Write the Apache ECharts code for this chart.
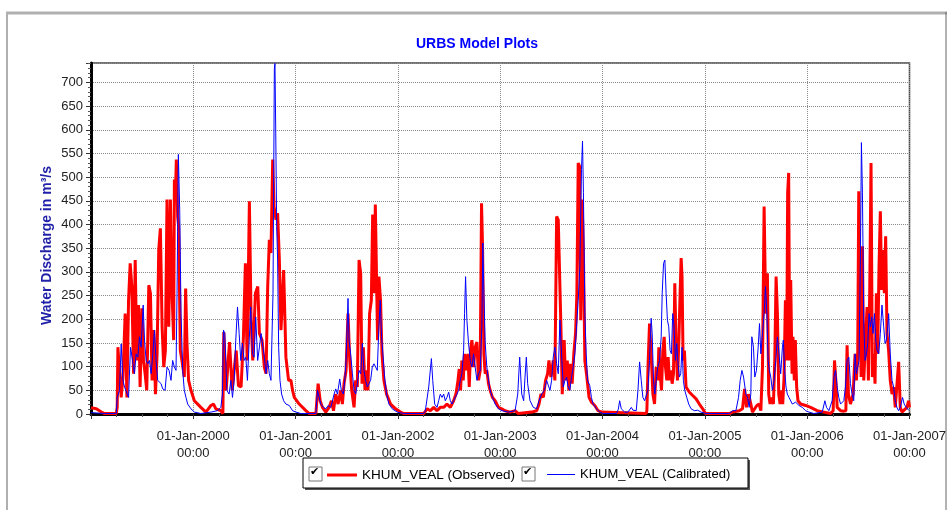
<!DOCTYPE html>
<html>
<head>
<meta charset="utf-8">
<script src="https://cdn.jsdelivr.net/npm/echarts@6/dist/echarts.min.js"></script>
<style>
html,body{margin:0;padding:0;background:#fff;}
#chart{width:949px;height:510px;}
</style>
</head>
<body>
<div id="chart"></div>
<script>
// Decimal-year time stamps and discharge values (m3/s)
var obsT = [1999.000,1999.052,1999.101,1999.133,1999.247,1999.256,1999.263,1999.273,1999.295,1999.312,1999.334,1999.351,1999.367,1999.383,1999.399,1999.416,1999.432,1999.448,1999.464,1999.480,1999.497,1999.513,1999.529,1999.545,1999.565,1999.581,1999.597,1999.614,1999.630,1999.646,1999.662,1999.678,1999.695,1999.711,1999.727,1999.743,1999.760,1999.776,1999.792,1999.808,1999.815,1999.824,1999.834,1999.847,1999.857,1999.873,1999.889,1999.912,1999.925,1999.938,1999.954,1999.977,2000.010,2000.074,2000.123,2000.172,2000.198,2000.220,2000.269,2000.289,2000.298,2000.321,2000.354,2000.380,2000.402,2000.419,2000.441,2000.467,2000.490,2000.509,2000.526,2000.548,2000.565,2000.581,2000.607,2000.630,2000.646,2000.672,2000.694,2000.711,2000.727,2000.743,2000.759,2000.776,2000.789,2000.808,2000.824,2000.841,2000.857,2000.883,2000.905,2000.931,2000.954,2000.970,2000.987,2001.035,2001.100,2001.133,2001.198,2001.220,2001.240,2001.262,2001.295,2001.327,2001.350,2001.370,2001.392,2001.415,2001.441,2001.457,2001.473,2001.493,2001.512,2001.529,2001.548,2001.571,2001.587,2001.603,2001.620,2001.636,2001.649,2001.662,2001.678,2001.691,2001.707,2001.723,2001.740,2001.753,2001.766,2001.779,2001.791,2001.801,2001.814,2001.830,2001.844,2001.863,2001.889,2001.928,2001.977,2002.025,2002.058,2002.252,2002.285,2002.317,2002.350,2002.382,2002.414,2002.447,2002.479,2002.512,2002.544,2002.567,2002.587,2002.599,2002.612,2002.625,2002.638,2002.651,2002.668,2002.684,2002.697,2002.710,2002.723,2002.739,2002.755,2002.772,2002.788,2002.804,2002.817,2002.827,2002.840,2002.853,2002.869,2002.885,2002.901,2002.924,2002.950,2002.983,2003.015,2003.047,2003.096,2003.145,2003.177,2003.307,2003.356,2003.379,2003.398,2003.421,2003.443,2003.463,2003.476,2003.495,2003.518,2003.534,2003.551,2003.567,2003.583,2003.593,2003.606,2003.625,2003.638,2003.655,2003.671,2003.687,2003.703,2003.719,2003.736,2003.749,2003.762,2003.775,2003.787,2003.800,2003.813,2003.827,2003.843,2003.868,2003.891,2003.924,2003.956,2003.989,2004.005,2004.427,2004.433,2004.446,2004.459,2004.475,2004.492,2004.508,2004.524,2004.540,2004.550,2004.563,2004.576,2004.589,2004.602,2004.615,2004.628,2004.641,2004.654,2004.667,2004.680,2004.693,2004.706,2004.719,2004.732,2004.745,2004.758,2004.768,2004.777,2004.787,2004.800,2004.816,2004.849,2004.881,2004.914,2004.946,2004.979,2005.005,2005.238,2005.271,2005.336,2005.368,2005.388,2005.407,2005.427,2005.449,2005.465,2005.482,2005.508,2005.530,2005.547,2005.563,2005.579,2005.595,2005.611,2005.624,2005.637,2005.650,2005.670,2005.683,2005.696,2005.709,2005.722,2005.735,2005.748,2005.761,2005.774,2005.787,2005.800,2005.809,2005.819,2005.829,2005.839,2005.852,2005.861,2005.874,2005.884,2005.897,2005.910,2005.936,2005.985,2006.033,2006.098,2006.163,2006.228,2006.254,2006.267,2006.280,2006.293,2006.326,2006.358,2006.378,2006.390,2006.403,2006.423,2006.449,2006.468,2006.481,2006.494,2006.504,2006.517,2006.527,2006.540,2006.553,2006.569,2006.585,2006.598,2006.611,2006.624,2006.637,2006.650,2006.663,2006.676,2006.689,2006.702,2006.715,2006.728,2006.741,2006.754,2006.767,2006.780,2006.796,2006.812,2006.829,2006.845,2006.861,2006.877,2006.894,2006.910,2006.926,2006.942,2006.975,2006.991,2007.000];
var obsV = [13,11,4,1,1,14,141,141,35,78,212,35,240,318,269,85,325,113,230,57,223,113,85,50,272,255,71,177,42,127,346,392,184,99,134,453,184,453,255,156,495,453,537,417,396,134,113,78,265,149,71,50,28,14,4,18,21,11,7,1,173,50,152,50,99,134,60,57,163,318,113,449,198,113,255,269,170,156,99,85,269,368,340,537,438,410,424,325,177,304,120,71,71,50,35,21,7,1,1,64,28,14,4,14,28,7,42,21,50,21,64,92,212,113,50,14,71,57,325,297,64,141,50,92,50,212,240,421,255,442,438,156,290,240,127,71,42,21,11,4,1,1,11,7,14,7,14,14,21,14,28,42,71,95,50,113,71,127,92,127,57,134,156,99,141,152,71,92,445,354,127,85,92,64,50,35,28,14,11,7,4,7,1,4,7,21,42,35,71,85,113,78,113,71,417,410,414,184,42,156,71,113,50,106,64,127,170,255,530,523,198,453,339,113,85,35,25,18,7,4,1,1,7,113,191,127,42,21,99,71,141,85,50,134,163,99,71,120,71,92,64,85,276,141,71,149,255,329,290,113,134,57,46,39,32,21,11,1,1,4,7,11,53,14,42,21,4,7,18,21,7,99,438,212,297,42,21,35,21,113,290,212,42,21,50,21,78,240,113,467,509,113,283,85,163,71,156,57,28,21,18,14,7,4,1,7,113,71,14,7,6,7,145,42,21,42,127,71,127,470,255,78,354,71,71,226,71,255,530,78,127,64,255,127,311,428,262,346,255,375,170,134,71,42,57,14,11,110,14,4,1,14,28,14];

var calT = [1999.000,1999.133,1999.247,1999.256,1999.279,1999.295,1999.312,1999.328,1999.354,1999.367,1999.386,1999.406,1999.425,1999.441,1999.458,1999.474,1999.490,1999.510,1999.523,1999.539,1999.555,1999.571,1999.588,1999.604,1999.620,1999.636,1999.652,1999.669,1999.685,1999.701,1999.724,1999.743,1999.763,1999.782,1999.798,1999.815,1999.831,1999.841,1999.854,1999.867,1999.880,1999.896,1999.912,1999.928,1999.945,1999.977,2000.010,2000.074,2000.172,2000.237,2000.269,2000.285,2000.295,2000.308,2000.328,2000.350,2000.367,2000.383,2000.399,2000.415,2000.432,2000.448,2000.464,2000.480,2000.497,2000.513,2000.529,2000.545,2000.561,2000.578,2000.594,2000.610,2000.629,2000.646,2000.662,2000.678,2000.694,2000.711,2000.727,2000.743,2000.759,2000.769,2000.779,2000.792,2000.798,2000.805,2000.815,2000.824,2000.834,2000.847,2000.863,2000.883,2000.905,2000.938,2000.970,2001.003,2001.051,2001.198,2001.214,2001.230,2001.246,2001.272,2001.295,2001.318,2001.344,2001.376,2001.392,2001.409,2001.431,2001.447,2001.467,2001.480,2001.493,2001.512,2001.522,2001.538,2001.555,2001.571,2001.587,2001.603,2001.620,2001.636,2001.652,2001.668,2001.684,2001.701,2001.717,2001.733,2001.749,2001.766,2001.782,2001.798,2001.814,2001.827,2001.840,2001.853,2001.869,2001.889,2001.912,2001.944,2001.993,2002.058,2002.252,2002.268,2002.301,2002.327,2002.340,2002.359,2002.382,2002.398,2002.414,2002.431,2002.447,2002.463,2002.479,2002.496,2002.512,2002.528,2002.544,2002.561,2002.577,2002.593,2002.609,2002.625,2002.642,2002.651,2002.661,2002.674,2002.690,2002.707,2002.723,2002.739,2002.755,2002.772,2002.788,2002.804,2002.820,2002.830,2002.840,2002.853,2002.869,2002.885,2002.901,2002.924,2002.950,2002.983,2003.015,2003.080,2003.145,2003.171,2003.190,2003.210,2003.229,2003.242,2003.255,2003.268,2003.291,2003.323,2003.356,2003.379,2003.405,2003.430,2003.453,2003.469,2003.486,2003.502,2003.518,2003.534,2003.551,2003.567,2003.583,2003.599,2003.616,2003.632,2003.648,2003.664,2003.680,2003.697,2003.713,2003.729,2003.745,2003.762,2003.778,2003.794,2003.804,2003.813,2003.827,2003.840,2003.853,2003.875,2003.891,2003.907,2003.940,2003.972,2004.005,2004.135,2004.154,2004.167,2004.183,2004.216,2004.248,2004.281,2004.297,2004.329,2004.346,2004.362,2004.378,2004.394,2004.411,2004.427,2004.443,2004.459,2004.475,2004.485,2004.498,2004.511,2004.524,2004.540,2004.557,2004.573,2004.583,2004.596,2004.609,2004.621,2004.634,2004.647,2004.660,2004.673,2004.686,2004.699,2004.712,2004.725,2004.738,2004.751,2004.764,2004.777,2004.790,2004.803,2004.823,2004.842,2004.865,2004.897,2004.930,2004.962,2005.011,2005.238,2005.271,2005.303,2005.329,2005.345,2005.362,2005.378,2005.401,2005.417,2005.433,2005.449,2005.459,2005.475,2005.488,2005.504,2005.521,2005.534,2005.547,2005.563,2005.579,2005.592,2005.605,2005.618,2005.631,2005.644,2005.660,2005.676,2005.693,2005.709,2005.725,2005.741,2005.758,2005.767,2005.780,2005.793,2005.806,2005.822,2005.855,2005.887,2005.920,2005.952,2005.985,2006.017,2006.066,2006.147,2006.173,2006.189,2006.212,2006.244,2006.261,2006.277,2006.293,2006.309,2006.326,2006.342,2006.358,2006.374,2006.390,2006.407,2006.423,2006.439,2006.455,2006.468,2006.481,2006.494,2006.507,2006.520,2006.530,2006.540,2006.553,2006.566,2006.579,2006.592,2006.605,2006.618,2006.631,2006.644,2006.657,2006.670,2006.683,2006.699,2006.715,2006.731,2006.748,2006.761,2006.774,2006.787,2006.796,2006.812,2006.829,2006.845,2006.861,2006.877,2006.894,2006.910,2006.932,2006.948,2006.968,2006.991];
var calV = [3,1,1,35,50,148,71,57,42,35,141,113,85,127,120,163,141,230,156,113,106,113,85,127,177,113,71,71,64,53,50,99,92,71,113,99,92,255,548,431,212,92,50,35,21,11,4,1,4,7,14,42,177,170,50,42,71,35,71,156,226,170,113,149,113,120,71,67,226,127,120,205,113,141,170,170,120,85,113,85,71,71,255,728,740,608,396,325,141,71,42,28,21,18,7,4,1,1,50,35,21,14,11,18,14,42,53,42,74,50,42,71,113,244,156,127,85,50,42,64,92,85,149,92,71,57,57,71,99,106,99,92,184,240,163,127,78,42,21,11,4,1,1,7,57,117,71,21,14,28,42,35,42,28,35,46,28,21,28,35,42,50,71,85,134,212,290,198,149,113,99,127,99,71,85,92,184,361,255,149,99,71,50,35,21,11,7,4,7,42,120,42,28,78,120,64,28,14,11,28,42,50,71,71,50,71,120,141,106,85,198,127,57,71,78,57,50,78,99,127,127,240,311,516,576,467,212,127,71,60,35,21,11,4,1,1,10,28,11,4,4,14,8,7,50,110,71,35,28,32,50,113,202,170,71,42,71,99,113,163,255,318,325,255,198,184,134,127,212,184,113,149,106,78,85,141,71,50,35,21,11,7,8,4,1,1,7,7,35,71,92,78,42,35,14,42,163,141,78,92,141,191,127,127,212,269,219,113,92,78,50,71,113,163,127,85,141,156,92,57,42,35,21,25,18,14,7,4,1,4,28,14,7,28,78,92,57,35,21,25,28,57,113,120,64,42,28,127,85,99,113,325,573,467,191,113,127,149,212,184,205,170,212,156,134,127,170,230,184,149,156,184,212,127,71,57,28,14,7,14,35,21,14,8];

var yearTicks = [2000, 2001, 2002, 2003, 2004, 2005, 2006, 2007];
var obsName = 'KHUM_VEAL (Observed)';
var calName = 'KHUM_VEAL (Calibrated)';

function pairs(t, v) { var out = []; for (var i = 0; i < t.length; i++) out.push([t[i], v[i]]); return out; }

var chart = echarts.init(document.getElementById('chart'), null, {renderer: 'canvas'});
var font = '"Liberation Sans", Arial, sans-serif';

chart.setOption({
  animation: false,
  backgroundColor: '#ffffff',
  title: {
    text: 'URBS Model Plots',
    left: 477, top: 37, textAlign: 'center', padding: 0,
    textStyle: {color: '#0000ff', fontSize: 14, fontWeight: 'bold', fontFamily: font}
  },
  grid: {left: 91, right: 37, top: 63, bottom: 96, show: true, borderColor: '#444', borderWidth: 1.5, backgroundColor: '#fff'},
  legend: [
    {data: [obsName], left: 327, top: 468, padding: 0, itemWidth: 30, itemHeight: 3, itemGap: 0,
     icon: 'rect', selectedMode: false,
     textStyle: {color: '#000', fontSize: 13.5, fontFamily: font}},
    {data: [calName], left: 547, top: 468, padding: 0, itemWidth: 28, itemHeight: 1, itemGap: 0,
     icon: 'rect', selectedMode: false,
     textStyle: {color: '#000', fontSize: 13, fontFamily: font}}
  ],
  xAxis: {
    type: 'value', min: 1999, max: 2007, interval: 1,
    axisLine: {show: true, onZero: false, lineStyle: {color: '#000', width: 3}},
    axisTick: {show: true, length: 5, lineStyle: {color: '#333'}},
    minorTick: {show: true, splitNumber: 4, length: 3, lineStyle: {color: '#555'}},
    splitLine: {show: true, lineStyle: {color: '#8a8a8a', type: 'dotted', width: 1}},
    axisLabel: {
      margin: 14, color: '#222', fontSize: 13, fontFamily: font, lineHeight: 17,
      formatter: function (v) { return yearTicks.indexOf(v) >= 0 ? '01-Jan-' + v + '\n00:00' : ''; }
    }
  },
  yAxis: {
    type: 'value', min: 0, max: 741, interval: 50,
    name: 'Water Discharge in m\u00b3/s', nameLocation: 'middle', nameGap: 37, nameRotate: 90,
    nameMoveOverlap: false,
    nameTextStyle: {color: '#1f1fa8', fontSize: 14, fontWeight: 'bold', fontFamily: font, padding: [0, 14, 0, 0]},
    axisLine: {show: true, lineStyle: {color: '#000', width: 3}},
    axisTick: {show: true, length: 5, lineStyle: {color: '#333'}},
    minorTick: {show: true, splitNumber: 5, length: 3, lineStyle: {color: '#555'}},
    splitLine: {show: true, lineStyle: {color: '#8a8a8a', type: 'dotted', width: 1}},
    axisLabel: {margin: 8, color: '#222', fontSize: 13, fontFamily: font,
      formatter: function (v) { return v <= 700 ? String(v) : ''; }}
  },
  series: [
    {name: obsName, type: 'line', data: pairs(obsT, obsV), showSymbol: false, symbol: 'none',
     lineStyle: {color: '#ff0000', width: 3}, itemStyle: {color: '#ff0000'}, z: 2},
    {name: calName, type: 'line', data: pairs(calT, calV), showSymbol: false, symbol: 'none',
     lineStyle: {color: '#0000ff', width: 1}, itemStyle: {color: '#0000ff'}, z: 3}
  ],
  graphic: [
    {type: 'line', shape: {x1: 6, y1: 13, x2: 947, y2: 13}, style: {stroke: '#b0b0b0', lineWidth: 3}, silent: true},
    {type: 'line', shape: {x1: 7, y1: 13, x2: 7, y2: 510}, style: {stroke: '#b0b0b0', lineWidth: 2}, silent: true},
    {type: 'line', shape: {x1: 946, y1: 12, x2: 946, y2: 510}, style: {stroke: '#666', lineWidth: 1}, silent: true},
    {type: 'rect', shape: {x: 305, y: 460, width: 445, height: 30}, style: {fill: '#555'}, silent: true, z: -1},
    {type: 'rect', shape: {x: 303, y: 458, width: 445, height: 30}, style: {fill: '#fff', stroke: '#000', lineWidth: 1}, silent: true, z: 0},
    {type: 'rect', shape: {x: 309, y: 467, width: 13, height: 14}, style: {fill: '#fff', stroke: '#777', lineWidth: 1}, silent: true, z: 1},
    {type: 'text', left: 310, top: 467, style: {text: '\u2714', fill: '#000', font: '11px "DejaVu Sans"'}, silent: true, z: 2},
    {type: 'rect', shape: {x: 522, y: 467, width: 13, height: 14}, style: {fill: '#fff', stroke: '#777', lineWidth: 1}, silent: true, z: 1},
    {type: 'text', left: 523, top: 467, style: {text: '\u2714', fill: '#000', font: '11px "DejaVu Sans"'}, silent: true, z: 2}
  ]
});
</script>
</body>
</html>
